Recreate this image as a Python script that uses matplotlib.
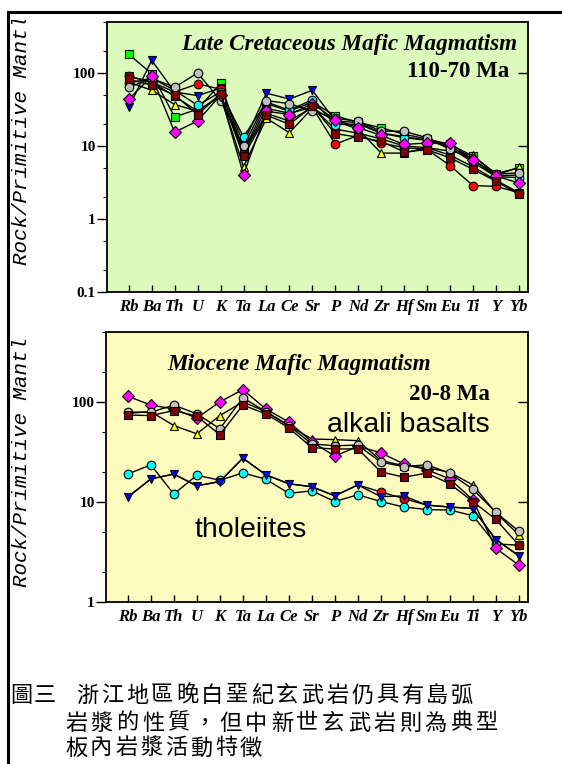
import matplotlib
matplotlib.use("Agg")
import matplotlib.pyplot as plt
from matplotlib.patches import Rectangle
from matplotlib.transforms import Bbox, TransformedBbox
from matplotlib.ticker import LogLocator, NullFormatter, FixedLocator

# spider diagram elements
elements = ["Rb", "Ba", "Th", "U", "K", "Ta", "La", "Ce", "Sr", "P",
            "Nd", "Zr", "Hf", "Sm", "Eu", "Ti", "Y", "Yb"]

# Late Cretaceous samples (rock / primitive mantle)
kc_green = [180, 98, 25, 32, 72, 8.5, 38, 30, 40, 26, 21, 17.8, 14.5, 12.5, 10.5, 7.3, 4.2, 5.0]
kc_blue = [34, 149, 55, 49, 62, 11, 53, 44, 58, 22, 21, 15, 13.5, 12, 10, 6.5, 3.9, 4.0]
kc_yellow = [75, 58, 37, 30, 48, 5.2, 24, 15.2, 33, 22, 17, 8, 8, 9.5, 8.5, 7.5, 4.0, 5.1]
kc_red = [90, 75, 55, 71, 60, 8, 33, 28, 34, 10.6, 14, 11, 9.5, 9, 5.4, 2.87, 2.8, 2.3]
kc_cyan = [73, 85, 58, 36, 55, 13.3, 40, 31, 43, 19.6, 20, 15, 13, 12, 9.5, 6.0, 3.8, 3.7]
kc_gray = [64, 84, 64, 100, 42, 9.9, 42, 38, 30, 24, 21.8, 16, 15.9, 13, 9, 6.5, 4.1, 4.3]
kc_magenta = [44, 90, 15.5, 22, 50, 4.05, 30, 27, 38, 23, 17.8, 14, 10.5, 11, 11, 6.5, 3.9, 3.1]
kc_darkred = [82, 68, 50, 27, 52, 7.2, 26.5, 19.8, 35, 14.8, 13.2, 11.6, 8.3, 8.9, 6.9, 4.8, 3.3, 2.18]
kc_darkred2 = [90, 75, 48, 30, 50, 8, 28, 22, 34, 17, 15, 12.5, 10, 9.5, 7.5, 5.2, 3.4, 2.3]

# Miocene samples: alkali basalts and tholeiites
mi_magenta = [114, 93, 85, 69, 100, 133, 85, 63, 40, 28.7, 36, 31, 24, 21, 17, 10.5, 3.44, 2.34]
mi_gray = [79, 79, 93, 76, 54, 110, 80, 58, 38, 36.5, 37, 25, 22.6, 23.5, 19.4, 13.4, 7.9, 5.1]
mi_darkred = [74, 73, 82, 72, 47, 93, 76, 55, 35, 33.8, 34, 20, 17.7, 19.4, 15.2, 10.1, 6.7, 3.7]
mi_yellow = [77, 80, 58, 48, 73, 100, 80, 58, 42.6, 42, 41, 26, 23, 22, 19.8, 14.8, 7.8, 4.7]
mi_red = [11.2, 17, 19, 14.5, 16, 27.4, 18.7, 15.2, 14.2, 11.5, 14.8, 12.6, 10.8, 9.3, 8.9, 8.6, 4.2, 2.9]
mi_cyan = [19, 23.5, 12, 18.5, 16.5, 19.5, 16.9, 12.2, 12.9, 10.1, 11.8, 10.1, 8.9, 8.4, 8.3, 7.3, 3.8, 3.7]
mi_blue = [11.2, 17, 19, 14.5, 16, 27.4, 18.7, 15.2, 14.2, 11.5, 14.8, 11.3, 11.5, 9.3, 8.9, 8.6, 4.2, 2.9]
mi_red_visible = ["Zr", "Hf"]   # elsewhere it sits under the blue sample

styles = {
    "green": ("s", "#00ff00"), "blue": ("v", "#0000ff"), "yellow": ("^", "#ffff00"),
    "red": ("o", "#ff0000"), "cyan": ("o", "#00ffff"), "gray": ("o", "#c0c0c0"),
    "magenta": ("D", "#ff00ff"), "darkred": ("s", "#800000"),
}

top_series = [("green", kc_green, None), ("blue", kc_blue, None), ("yellow", kc_yellow, None),
              ("red", kc_red, None), ("darkred", kc_darkred2, None), ("cyan", kc_cyan, None),
              ("gray", kc_gray, None), ("magenta", kc_magenta, None), ("darkred", kc_darkred, None)]
bot_series = [("red", mi_red, [elements.index(e) for e in mi_red_visible]),
              ("cyan", mi_cyan, None), ("blue", mi_blue, None), ("yellow", mi_yellow, None),
              ("magenta", mi_magenta, None), ("gray", mi_gray, None), ("darkred", mi_darkred, None)]

W, H = 562, 764
fig = plt.figure(figsize=(W / 100, H / 100), dpi=100)

# outer frame (left and top edges visible)
fig.add_artist(Rectangle((8 / W, -0.1), 1.2, 1 - 12 / H + 0.1, transform=fig.transFigure,
                         fill=False, edgecolor="black", linewidth=2.2))

serif_bi = dict(family="Liberation Serif", weight="bold", style="italic")


def px_axes(l, t, r, b):
    return [l / W, 1 - b / H, (r - l) / W, (b - t) / H]


def spider(ax, series, ymin, ylabels, bg):
    ax.set_facecolor(bg)
    x = list(range(len(elements)))
    for key, vals, every in series:
        m, c = styles[key]
        ms = 6.4 if m == "D" else 6.2
        ax.plot(x, vals, color="black", lw=1.0, marker=m, markersize=ms, markevery=every,
                markerfacecolor=c, markeredgecolor="black", markeredgewidth=0.8)
    ax.set_yscale("log")
    ax.set_ylim(ymin, 500)
    ax.set_xlim(-0.95, len(elements) - 0.95 + 0.35)
    ax.set_xticks(x)
    ax.set_xticklabels(elements, fontsize=12, **serif_bi)
    ax.tick_params(axis="x", direction="in", length=5, width=1, pad=5, top=False)
    ax.yaxis.set_major_locator(FixedLocator([float(v) for v in ylabels]))
    ax.set_yticklabels(ylabels, family="Liberation Serif", weight="bold", fontsize=11)
    ax.yaxis.set_minor_locator(LogLocator(base=10, subs=(2.0, 5.0)))
    ax.yaxis.set_minor_formatter(NullFormatter())
    ax.tick_params(axis="y", which="major", direction="out", length=7, width=1, pad=1)
    ax.tick_params(axis="y", which="minor", direction="out", length=3, width=0.8)
    for s in ax.spines.values():
        s.set_linewidth(1.3)
    # inner right-hand ticks at major decades
    sec = ax.secondary_yaxis("right")
    sec.yaxis.set_major_locator(FixedLocator([100.0, 10.0]))
    sec.yaxis.set_minor_locator(FixedLocator([]))
    sec.tick_params(direction="in", length=7, width=1, labelright=False)
    sec.spines["right"].set_visible(False)


ax1 = fig.add_axes(px_axes(107, 22, 528, 292))
spider(ax1, top_series, 0.1, ["0.1", "1", "10", "100"], "#dcfabc")
ax1.text(0.974, 0.917, "Late Cretaceous Mafic Magmatism", transform=ax1.transAxes,
         ha="right", va="center", fontsize=16.7, **serif_bi)
ax1.text(0.955, 0.815, "110-70 Ma", transform=ax1.transAxes, ha="right", va="center",
         fontsize=16.5, family="Liberation Serif", weight="bold")

ax2 = fig.add_axes(px_axes(106, 332, 528, 602))
spider(ax2, bot_series, 1, ["1", "10", "100"], "#fdfbbd")
ax2.text(0.145, 0.879, "Miocene Mafic Magmatism", transform=ax2.transAxes,
         ha="left", va="center", fontsize=16.7, **serif_bi)
ax2.text(0.91, 0.767, "20-8 Ma", transform=ax2.transAxes, ha="right", va="center",
         fontsize=16.5, family="Liberation Serif", weight="bold")
ax2.text(0.524, 0.656, "alkali basalts", transform=ax2.transAxes, ha="left", va="center",
         fontsize=20.5, family="Liberation Sans")
ax2.text(0.211, 0.266, "tholeiites", transform=ax2.transAxes, ha="left", va="center",
         fontsize=20.5, family="Liberation Sans")

# y labels, clipped at the top like the original
for ybot, yclip in [(265, 20), (587, 340)]:
    t = fig.text(22 / W, 1 - ybot / H, "Rock/Primitive Mantle", rotation=90,
                 ha="center", va="bottom", fontsize=15, family="Liberation Mono",
                 style="italic", clip_on=True)
    t.set_clip_box(TransformedBbox(Bbox.from_extents(0, 0, 1, 1 - yclip / H), fig.transFigure))

# caption, one glyph per cell as in the source layout
cjk = ["Noto Sans CJK TC", "DejaVu Sans"]
caption = [
    (10, 695, "圖三", 24.0),
    (76, 695, "浙江地區晚白堊紀玄武岩仍具有島弧", 25.0),
    (65, 723, "岩漿的性質，但中新世玄武岩則為典型", 25.7),
    (65, 748, "板內岩漿活動特徵", 25.0),
]
for x0, yc, line, step in caption:
    for i, ch in enumerate(line):
        fig.text((x0 + i * step) / W, 1 - yc / H, ch, ha="left", va="center",
                 fontsize=16, family=cjk, weight="medium")

fig.savefig("out.png", dpi=100)
